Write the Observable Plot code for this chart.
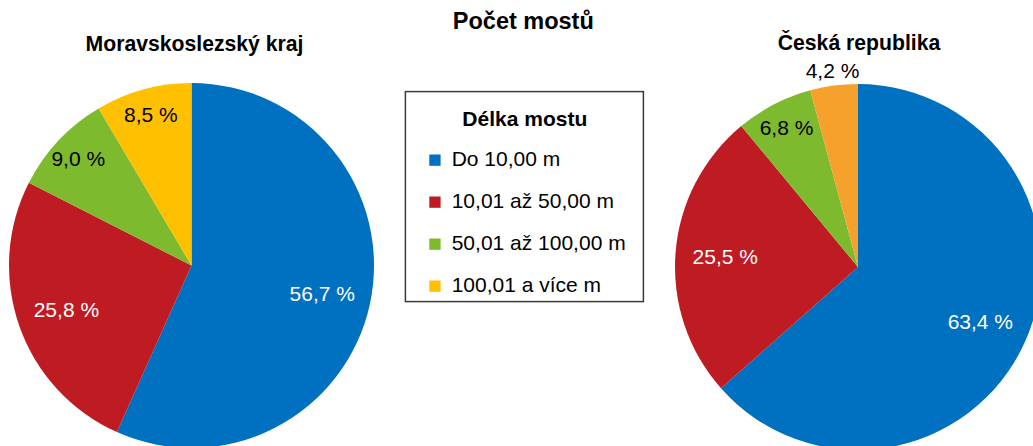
<!DOCTYPE html>
<html><head><meta charset="utf-8">
<script src="https://cdn.jsdelivr.net/npm/d3@7"></script>
<script src="https://cdn.jsdelivr.net/npm/@observablehq/plot@0.6"></script>
<style>
html,body{margin:0;padding:0;background:#fff;overflow:hidden;}
#root{position:relative;width:1033px;height:446px;overflow:hidden;font-family:"Liberation Sans",Arial,sans-serif;}
#root svg{position:absolute;max-width:none;}
</style></head><body><div id="root"></div>
<script>
// ---- data ----
const categories = ["Do 10,00 m", "10,01 až 50,00 m", "50,01 až 100,00 m", "100,01 a více m"];
const regions = ["Moravskoslezský kraj", "Česká republika"];
const msValues = [56.7, 25.8, 9.0, 8.5];
const crValues = [63.4, 25.5, 6.8, 4.2];
const msColors = ["#0070C0", "#BE1B23", "#7EBA2D", "#FFC000"];
const crColors = ["#0070C0", "#BE1B23", "#7EBA2D", "#F6A12B"];
const chartTitle = "Počet mostů";
const legendTitle = "Délka mostu";

const FONT = '"Liberation Sans", Arial, sans-serif';
const root = document.getElementById("root");
const fmt = v => d3.format(".1f")(v).replace(".", ",") + " %";

function piePlot(values, colors, R, cx, cy) {
  const top = 45;
  const arcs = d3.pie().sort(null).value(d => d)(values);
  const data = arcs.map((a, i) => {
    const mid = (a.startAngle + a.endAngle) / 2;
    const v = values[i];
    const k = v >= 20 ? 0.73 : v >= 5 ? 0.855 : 1.08;
    const inside = k < 1;
    return {
      cat: categories[i], value: v, a0: a.startAngle, a1: a.endAngle,
      lx: k * Math.sin(mid), ly: k * Math.cos(mid), label: fmt(v), fill: colors[i],
      textFill: inside && d3.lab(colors[i]).l < 60 ? "#ffffff" : "#000000"
    };
  });
  const slices = (index, scales) => {
    const g = d3.create("svg:g");
    const x0 = scales.x(0), y0 = scales.y(0), r = scales.x(1) - scales.x(0);
    const arc = d3.arc().innerRadius(0).outerRadius(r);
    g.selectAll("path").data(data).join("path")
      .attr("transform", `translate(${x0},${y0})`)
      .attr("d", d => arc({startAngle: d.a0, endAngle: d.a1}))
      .attr("fill", d => d.fill);
    return g.node();
  };
  const svg = Plot.plot({
    width: 2 * R, height: 2 * R + top,
    marginTop: top, marginLeft: 0, marginRight: 0, marginBottom: 0,
    x: {domain: [-1, 1], axis: null},
    y: {domain: [-1, 1], axis: null},
    color: {type: "identity"},
    style: {fontFamily: FONT, fontSize: "21px", background: "transparent", overflow: "visible"},
    marks: [
      slices,
      Plot.text(data, {x: "lx", y: "ly", text: "label", fill: d => d.textFill, fontSize: 21})
    ]
  });
  svg.style.left = (cx - R) + "px";
  svg.style.top = (cy - R - top) + "px";
  root.appendChild(svg);
}

piePlot(msValues, msColors, 182.5, 191.7, 265.7);
piePlot(crValues, crColors, 183, 857.7, 266.7);

// ---- overlay: titles and legend ----
const ov = d3.create("svg").attr("width", 1033).attr("height", 446)
  .style("left", "0px").style("top", "0px").style("font-family", FONT);
ov.append("text").attr("x", 523.3).attr("y", 29).attr("text-anchor", "middle")
  .attr("font-size", 23.5).attr("font-weight", "bold").text(chartTitle);
ov.append("text").attr("x", 194.5).attr("y", 50.5).attr("text-anchor", "middle")
  .attr("font-size", 21.2).attr("font-weight", "bold").text(regions[0]);
ov.append("text").attr("x", 859).attr("y", 49.8).attr("text-anchor", "middle")
  .attr("font-size", 21.2).attr("font-weight", "bold").text(regions[1]);

const lg = ov.append("g");
lg.append("rect").attr("x", 405.4).attr("y", 91.6).attr("width", 238).attr("height", 210)
  .attr("fill", "white").attr("stroke", "#3a3a3a").attr("stroke-width", 1.5);
lg.append("text").attr("x", 524.8).attr("y", 126).attr("text-anchor", "middle")
  .attr("font-size", 21).attr("font-weight", "bold").text(legendTitle);
categories.forEach((c, i) => {
  const by = 166 + i * 42;
  lg.append("rect").attr("x", 429.3).attr("y", by - 11.5).attr("width", 11.3).attr("height", 11.3)
    .attr("fill", msColors[i]);
  lg.append("text").attr("x", 451.7).attr("y", by).attr("font-size", 21).text(c);
});
root.appendChild(ov.node());
</script></body></html>
